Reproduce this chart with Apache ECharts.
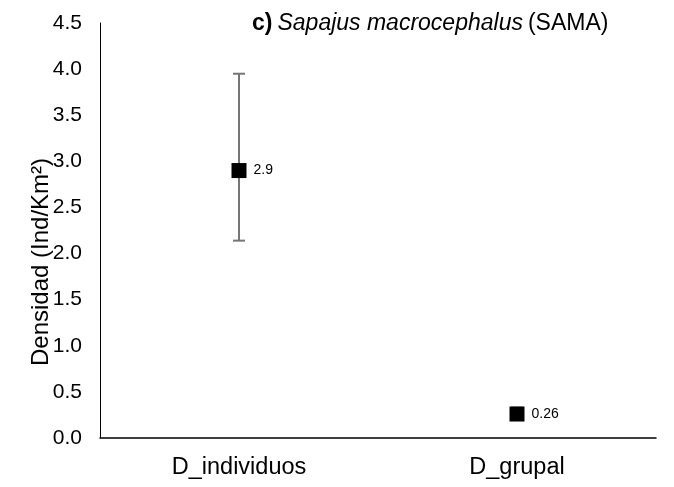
<!DOCTYPE html>
<html><head><meta charset="utf-8">
<script src="https://cdn.jsdelivr.net/npm/echarts@6/dist/echarts.min.js"></script>
<style>html,body{margin:0;padding:0;background:#fff}#c{width:674px;height:487px}</style>
</head><body><div id="c"></div>
<script>
const categories = ['D_individuos', 'D_grupal'];
const values = [2.9, 0.26];
const lowerErr = [2.14, 0.2];
const upperErr = [3.95, 0.33];
const valueLabels = ['2.9', '0.26'];
const yAxisTitle = 'Densidad (Ind/Km²)';

const chart = echarts.init(document.getElementById('c'));
const F = '"Liberation Sans", Arial, sans-serif';
chart.setOption({
  animation: false,
  backgroundColor: '#fff',
  title: {
    text: '{b|c)} {i|Sapajus macrocephalus} {n|(SAMA)}',
    left: 247, top: 7,
    textStyle: {
      fontWeight: 'normal',
      rich: {
        b: {fontFamily: F, fontSize: 23, fontWeight: 'bold', color: '#000', lineHeight: 23},
        i: {fontFamily: F, fontSize: 23, fontWeight: 'normal', fontStyle: 'italic', color: '#000', lineHeight: 23},
        n: {fontFamily: F, fontSize: 23, fontWeight: 'normal', color: '#000', lineHeight: 23}
      }
    }
  },
  graphic: [{
    type: 'text', x: 41, y: 262, rotation: Math.PI / 2,
    style: {text: yAxisTitle, fontFamily: F, fontSize: 24, fill: '#000', align: 'center', verticalAlign: 'middle'}
  }],
  grid: {left: 100, right: 18, top: 23, bottom: 49, containLabel: false},
  xAxis: {
    type: 'category', data: categories, boundaryGap: true,
    axisLine: {lineStyle: {color: '#000', width: 1.5}},
    axisTick: {show: false},
    axisLabel: {fontFamily: F, fontSize: 23.5, color: '#000', margin: 18}
  },
  yAxis: {
    type: 'value', min: 0, max: 4.5, interval: 0.5,
    axisLine: {show: true, lineStyle: {color: '#000', width: 1}},
    axisTick: {show: false},
    splitLine: {show: false},
    axisLabel: {fontFamily: F, fontSize: 21, color: '#000', margin: 18,
      formatter: v => v.toFixed(1)}
  },
  series: [
    {
      type: 'custom',
      data: categories.map((c, i) => [i, lowerErr[i], upperErr[i]]),
      renderItem: (params, api) => {
        const x = api.value(0);
        const lo = api.coord([x, api.value(1)]);
        const hi = api.coord([x, api.value(2)]);
        const hw = 6;
        const st = {stroke: '#767676', lineWidth: 2};
        return {type: 'group', children: [
          {type: 'line', shape: {x1: lo[0], y1: lo[1], x2: hi[0], y2: hi[1]}, style: st},
          {type: 'line', shape: {x1: lo[0]-hw, y1: lo[1], x2: lo[0]+hw, y2: lo[1]}, style: st},
          {type: 'line', shape: {x1: hi[0]-hw, y1: hi[1], x2: hi[0]+hw, y2: hi[1]}, style: st}
        ]};
      },
      z: 1
    },
    {
      type: 'scatter',
      data: values.map((v, i) => [i, v]),
      symbol: 'rect', symbolSize: 15,
      itemStyle: {color: '#000', opacity: 1},
      label: {show: true, position: 'right', distance: 7, fontFamily: F, fontSize: 14, color: '#000',
        formatter: p => valueLabels[p.dataIndex]},
      z: 3
    }
  ]
});
</script></body></html>
